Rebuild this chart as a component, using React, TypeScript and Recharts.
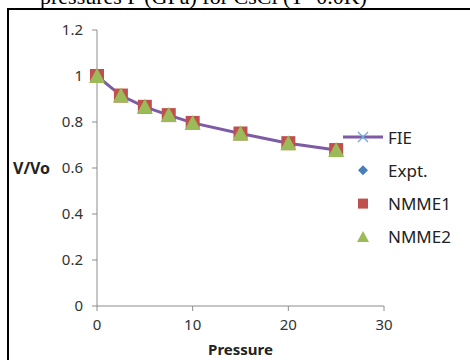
import React from 'react';
import { ComposedChart, Line, Scatter, XAxis, YAxis, Legend } from 'recharts';

const pressure = [0, 2.5, 5, 7.5, 10, 15, 20, 25];
const fie = [1.0, 0.915, 0.866, 0.83, 0.796, 0.75, 0.708, 0.678];
const expt = [1.0, 0.915, 0.866, 0.83, 0.796, 0.75, 0.708, 0.678];
const nmme1 = [1.0, 0.915, 0.866, 0.83, 0.796, 0.75, 0.708, 0.678];
const nmme2 = [1.0, 0.915, 0.866, 0.83, 0.796, 0.75, 0.708, 0.678];
const xTicks = [0, 10, 20, 30];
const yTicks = [0, 0.2, 0.4, 0.6, 0.8, 1, 1.2];
const seriesNames = ['FIE', 'Expt.', 'NMME1', 'NMME2'];

const data = pressure.map((p, i) => ({ p, fie: fie[i], expt: expt[i], nmme1: nmme1[i], nmme2: nmme2[i] }));

const PURPLE = '#7D5BA6';
const BLUE = '#4A7EBB';
const RED = '#C0504D';
const GREEN = '#9BBB59';
const FONT = "'Noto Sans', sans-serif";

const Square = (props: any) => {
  const { cx, cy } = props;
  return <rect x={cx - 7} y={cy - 7} width={14} height={14} fill={RED} />;
};
const Triangle = (props: any) => {
  const { cx, cy } = props;
  return <polygon points={`${cx},${cy - 8} ${cx + 8},${cy + 7} ${cx - 8},${cy + 7}`} fill={GREEN} />;
};
const Diamond = (props: any) => {
  const { cx, cy } = props;
  return <polygon points={`${cx},${cy - 6} ${cx + 6},${cy} ${cx},${cy + 6} ${cx - 6},${cy}`} fill={BLUE} />;
};

const LegendContent = () => {
  const rowH = 33.3;
  return (
    <svg width={125} height={130} style={{ overflow: 'visible', display: 'block' }}>
      {seriesNames.map((name, i) => {
        const y = 8 + i * rowH;
        const mx = 20;
        let marker: React.ReactNode = null;
        if (i === 0) {
          marker = (
            <g>
              <line x1={0} y1={y} x2={40} y2={y} stroke={PURPLE} strokeWidth={3} />
              <line x1={mx - 5} y1={y - 5} x2={mx + 5} y2={y + 5} stroke="#6FA8DC" strokeWidth={1.2} />
              <line x1={mx - 5} y1={y + 5} x2={mx + 5} y2={y - 5} stroke="#6FA8DC" strokeWidth={1.2} />
            </g>
          );
        } else if (i === 1) {
          marker = <polygon points={`${mx},${y - 5} ${mx + 5},${y} ${mx},${y + 5} ${mx - 5},${y}`} fill={BLUE} />;
        } else if (i === 2) {
          marker = <rect x={mx - 5} y={y - 5} width={10} height={10} fill={RED} />;
        } else {
          marker = <polygon points={`${mx},${y - 6} ${mx + 6},${y + 5} ${mx - 6},${y + 5}`} fill={GREEN} />;
        }
        return (
          <g key={name}>
            {marker}
            <text x={45} y={y} dominantBaseline="central" fontSize={17} fill="#222" fontFamily={FONT}>
              {name}
            </text>
          </g>
        );
      })}
    </svg>
  );
};

export default function App() {
  return (
    <div style={{ position: 'fixed', left: 0, top: 0, width: 470, height: 360, background: '#fff', overflow: 'hidden' }}>
      <div
        style={{
          position: 'absolute',
          left: 40,
          top: -16,
          fontFamily: "'Liberation Serif', serif",
          fontSize: 22,
          whiteSpace: 'nowrap',
          color: '#000',
        }}
      >
        pressures P (GPa) for CsCl (T=0.0K)
      </div>
      <div style={{ position: 'absolute', left: 7, top: 8, width: 470, height: 360, borderLeft: '2px solid #000', borderTop: '2px solid #000' }} />
      <div style={{ position: 'absolute', left: 0, top: 0 }}>
        <ComposedChart width={470} height={360} data={data} margin={{ top: 30, right: 86, bottom: 4, left: 10 }}>
          <XAxis
            dataKey="p"
            type="number"
            domain={[0, 30]}
            ticks={xTicks}
            tickSize={5}
            tickMargin={8}
            stroke="#8c8c8c"
            tick={{ fill: '#333', fontSize: 15, fontFamily: FONT }}
            height={50}
            label={{ value: 'Pressure', position: 'insideBottom', offset: 1, style: { fontWeight: 'bold', fontSize: 15, fill: '#222', fontFamily: FONT } }}
          />
          <YAxis
            type="number"
            domain={[0, 1.2]}
            ticks={yTicks}
            tickSize={5}
            tickMargin={9}
            stroke="#8c8c8c"
            width={87}
            tick={{ fill: '#333', fontSize: 15, fontFamily: FONT }}
            label={{ value: 'V/Vo', position: 'insideLeft', offset: 3, style: { fontWeight: 'bold', fontSize: 16, fill: '#222', fontFamily: FONT } }}
          />
          <Legend layout="horizontal" align="center" verticalAlign="middle" wrapperStyle={{ left: 343, top: 129, width: 125 }} content={<LegendContent />} />
          <Line dataKey="fie" name="FIE" stroke={PURPLE} strokeWidth={3} dot={false} isAnimationActive={false} />
          <Scatter dataKey="expt" name="Expt." shape={<Diamond />} isAnimationActive={false} />
          <Scatter dataKey="nmme1" name="NMME1" shape={<Square />} isAnimationActive={false} />
          <Scatter dataKey="nmme2" name="NMME2" shape={<Triangle />} isAnimationActive={false} />
        </ComposedChart>
      </div>
    </div>
  );
}
